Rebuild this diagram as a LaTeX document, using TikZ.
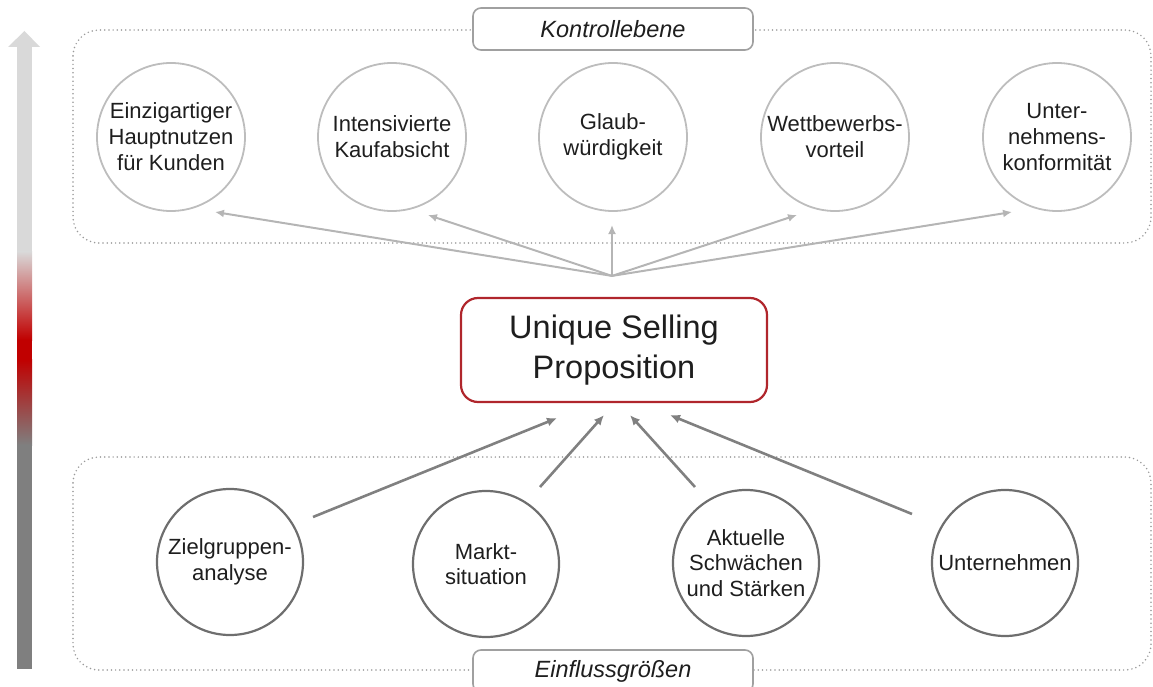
\documentclass[tikz,border=0pt]{standalone}
\usepackage{fontspec}
\setmainfont{Liberation Sans}
\usetikzlibrary{arrows.meta,calc}
\definecolor{topgray}{HTML}{BDBDBD}
\definecolor{botgray}{HTML}{6E6E6E}
\definecolor{dotgray}{HTML}{9A9A9A}
\definecolor{labgray}{HTML}{A0A0A0}
\definecolor{uspred}{HTML}{B0262C}
\definecolor{txt}{HTML}{1E1E1E}
\definecolor{toparrow}{HTML}{B5B5B5}
\definecolor{botarrow}{HTML}{808080}
\definecolor{barlight}{HTML}{D9D9D9}
\definecolor{barred}{HTML}{C00000}
\definecolor{bardark}{HTML}{7F7F7F}
\begin{document}
\begin{tikzpicture}[x=1pt,y=-1pt,
  topcirc/.style={circle, draw=topgray, line width=1.8pt, minimum size=148pt, inner sep=0pt, align=center, text=txt, font=\fontsize{22}{26}\selectfont},
  botcirc/.style={circle, draw=botgray, line width=2.2pt, minimum size=146pt, inner sep=0pt, align=center, text=txt, font=\fontsize{22}{25.5}\selectfont},
  groupbox/.style={draw=dotgray, line width=1.7pt, line cap=round, dash pattern=on 0pt off 4.2pt, rounded corners=26pt},
  labelbox/.style={draw=labgray, fill=white, line width=1.6pt, rounded corners=8pt, minimum width=280pt, minimum height=42pt, inner sep=0pt, text=txt, font=\itshape\fontsize{23.5}{26}\selectfont},
  uspbox/.style={draw=uspred, line width=2.2pt, rounded corners=17pt, minimum width=306pt, minimum height=104pt, inner sep=0pt, align=center, text=txt, font=\fontsize{32.5}{40}\selectfont},
  uparrow/.style={draw=toparrow, line width=2pt, -{Latex[length=9pt,width=8pt]}},
  inarrow/.style={draw=botarrow, line width=2.6pt, -{Latex[length=10pt,width=9pt]}}
]
\useasboundingbox (0,0) rectangle (1153,687);
\clip (0,0) rectangle (1153,687);

% left gradient arrow
\fill[barlight] (8,47) -- (24.5,31) -- (40,47) -- cycle;
\fill[barlight] (17,46.5) rectangle (32,252);
\shade[top color=barlight, bottom color=barred] (17,251.5) rectangle (32,340);
\fill[barred] (17,339.5) rectangle (32,360);
\shade[top color=barred, bottom color=bardark] (17,359.5) rectangle (32,445);
\fill[bardark] (17,444.5) rectangle (32,669);

% group boxes
\draw[groupbox] (73,30) rectangle (1151,243);
\draw[groupbox] (73,457) rectangle (1151,670);

% labels
\node[labelbox] (klab) at (613,29) {Kontrollebene};
\node[labelbox] (elab) at (613,671) {Einflussgrößen};

% top circles
\node[topcirc] (t1) at (171,137) {Einzigartiger\\Hauptnutzen\\für Kunden};
\node[topcirc] (t2) at (392,137) {Intensivierte\\Kaufabsicht};
\node[topcirc] (t3) at (613,137) {Glaub-\\würdigkeit};
\node[topcirc] (t4) at (835,137) {Wettbewerbs-\\vorteil};
\node[topcirc] (t5) at (1057,137) {Unter-\\nehmens-\\konformität};

% USP
\node[uspbox] (usp) at (614,350) {Unique Selling\\Proposition};

% bottom circles
\node[botcirc] (b1) at (230,562) {Zielgruppen-\\analyse};
\node[botcirc] (b2) at (486,564) {Markt-\\situation};
\node[botcirc] (b3) at (746,563) {Aktuelle\\Schwächen\\und Stärken};
\node[botcirc] (b4) at (1005,563) {Unternehmen};

% hub
\coordinate (hub) at ($(usp.north)+(-2,-21)$);

% top arrows
\draw[uparrow] (hub) -- ([shift={(44,75)}]t1.center);
\draw[uparrow] (hub) -- ([shift={(36,78)}]t2.center);
\draw[uparrow] (hub) -- ([shift={(-1,88)}]t3.center);
\draw[uparrow] (hub) -- ([shift={(-38,78)}]t4.center);
\draw[uparrow] (hub) -- ([shift={(-45,75)}]t5.center);

% bottom arrows
\draw[inarrow] ([shift={(83,-45)}]b1.center) -- ([shift={(-57,15)}]usp.south);
\draw[inarrow] ([shift={(54,-77)}]b2.center) -- ([shift={(-10,12)}]usp.south);
\draw[inarrow] ([shift={(-51,-76)}]b3.center) -- ([shift={(16,12)}]usp.south);
\draw[inarrow] ([shift={(-93,-49)}]b4.center) -- ([shift={(56,12)}]usp.south);
\end{tikzpicture}
\end{document}
